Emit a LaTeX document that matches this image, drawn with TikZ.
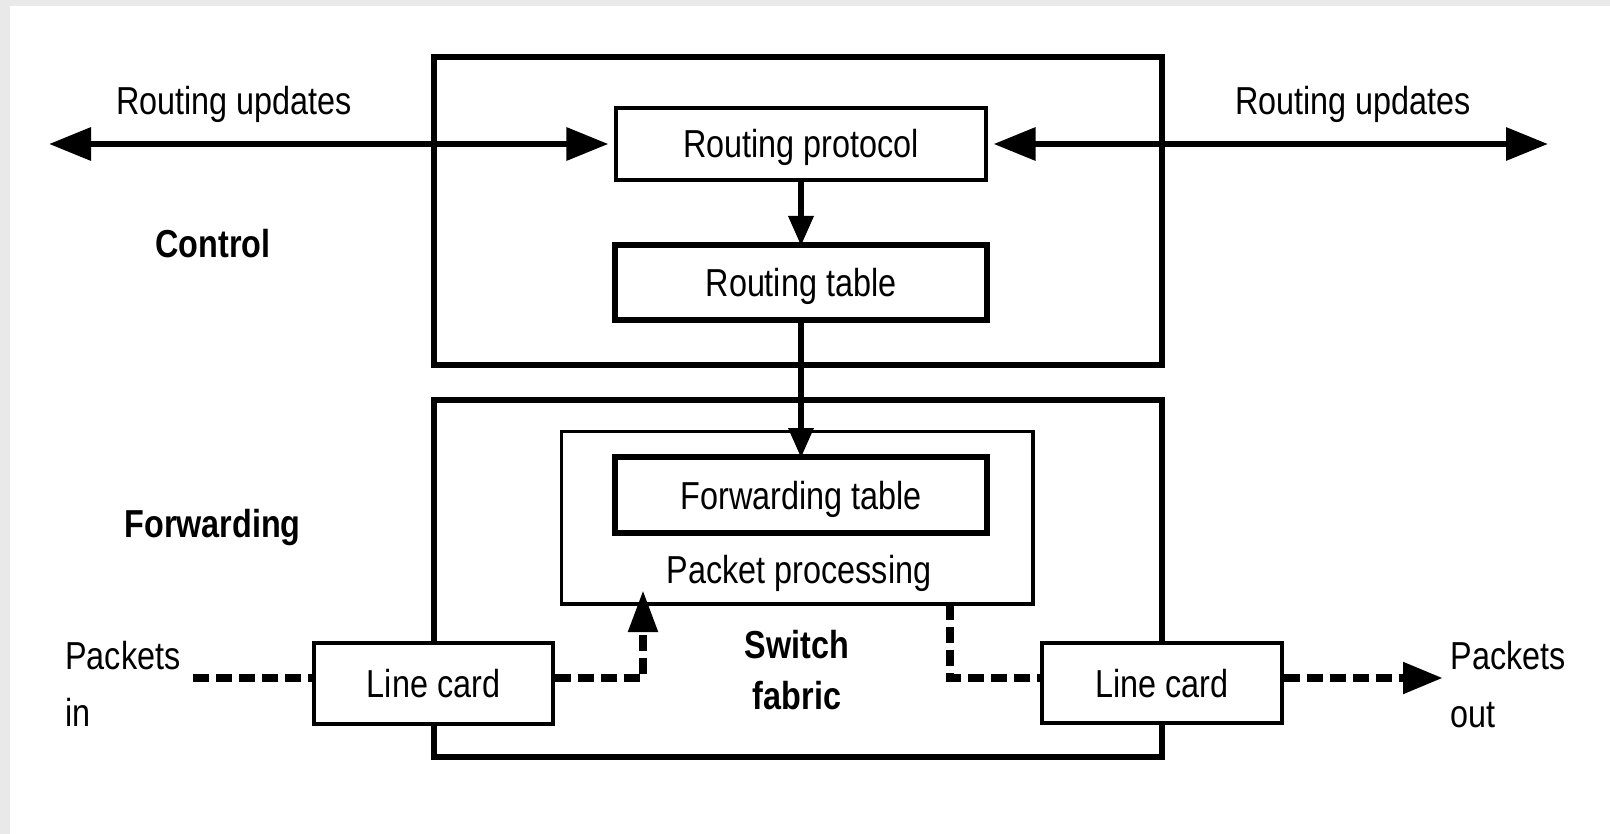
\documentclass[tikz,border=0pt]{standalone}
\usepackage{fontspec}
\setmainfont{Liberation Sans}[FakeStretch=0.83]
\usetikzlibrary{arrows.meta}
\definecolor{framegray}{HTML}{E9E9E9}
\tikzset{
  txt/.style={font=\fontsize{19.5}{23}\selectfont},
  lbl/.style={txt, inner sep=0pt, anchor=base},
  lblbold/.style={lbl, font=\fontsize{19.5}{23}\selectfont\bfseries},
  boxbase/.style={draw, fill=white, inner sep=0pt, txt, text height=14pt, text depth=0pt},
  thinbox/.style={boxbase, line width=1.6pt},
  thickbox/.style={boxbase, line width=3pt},
  plane/.style={draw, line width=3pt, inner sep=0pt},
  bigtip/.style={line width=3.2pt},
  downarrow/.style={line width=3.2pt, -{Triangle[length=15pt,width=12pt]}, shorten >=-2pt},
  flow/.style={line width=4pt, dash pattern=on 8pt off 3.5pt},
}
\begin{document}
\begin{tikzpicture}[x=0.5pt,y=-0.5pt]
  % frame and page
  \fill[framegray] (0,0) rectangle (1610,834);
  \fill[white] (10,6) rectangle (1610,834);
  \useasboundingbox (0,0) rectangle (1610,834);

  % control and forwarding planes
  \node[plane, minimum width=364pt, minimum height=154pt] (ctrl) at (798,211) {};
  \node[plane, minimum width=364pt, minimum height=178.5pt] (fwd) at (798,578.5) {};

  % packet processing block and tables
  \node[thinbox, minimum width=235.7pt, minimum height=86.2pt] (pp) at (797.3,517.8) {};
  \node[thickbox, minimum width=186pt, minimum height=38pt] (ft) at (801,495) {Forwarding table};
  \node[thickbox, minimum width=186pt, minimum height=37.5pt] (rt) at (801,282.5) {Routing table};
  \node[thinbox, minimum width=185pt, minimum height=36pt] (rp) at (801,144) {Routing protocol};
  \node[lbl] (pplbl) at (799,583) {Packet processing};

  % routing updates exchanged with neighbours
  \coordinate (ruL) at (49,144);
  \coordinate (ruR) at (1548,144);
  \draw[bigtip, {Triangle[length=21pt,width=16pt]}-{Triangle[length=21pt,width=16pt]}, shorten >=3pt]
    (ruL) -- (ruL -| rp.west);
  \draw[bigtip, {Triangle[length=21pt,width=16pt]}-{Triangle[length=21pt,width=16pt]}, shorten <=3pt]
    (ruR -| rp.east) -- (ruR);

  % control flow down to the forwarding table
  \draw[downarrow] (rp.south) -- (rt.north);
  \draw[downarrow] (rt.south) -- (ft.north);

  % line cards
  \node[thinbox, minimum width=119.5pt, minimum height=40.5pt] (lc1) at (433.5,683.5) {Line card};
  \node[thinbox, minimum width=120pt, minimum height=40pt] (lc2) at (1162,683) {Line card};

  % packet path
  \coordinate (dy) at (0,678);
  \coordinate (pin) at (193,678);
  \coordinate (uptip) at (643,590);
  \coordinate (ppout) at (950,604);
  \coordinate (pout) at (1443,678);
  \draw[flow] (pin) -- (lc1.west |- dy);
  \draw[flow, -{Triangle[length=21pt,width=14pt]}] (lc1.east |- dy) -| (uptip);
  \draw[flow] (ppout) |- (lc2.west |- dy);
  \draw[flow, -{Triangle[length=20pt,width=15pt]}] (lc2.east |- dy) -- (pout);

  % labels
  \node[lbl] (ruLt) at (234,115) {Routing updates};
  \node[lbl] (ruRt) at (1353,115) {Routing updates};
  \node[lblbold] (ctrlt) at (213,257) {Control};
  \node[lblbold] (fwdt) at (212.6,537) {Forwarding};
  \node[lblbold] (sw1) at (797,658) {Switch};
  \node[lblbold] (sw2) at (797,709) {fabric};
  \node[lbl, anchor=base west] (pin1) at (65,669) {Packets};
  \node[lbl, anchor=base west] (pin2) at (65,726) {in};
  \node[lbl, anchor=base west] (pout1) at (1450,669) {Packets};
  \node[lbl, anchor=base west] (pout2) at (1450,727) {out};
\end{tikzpicture}
\end{document}
